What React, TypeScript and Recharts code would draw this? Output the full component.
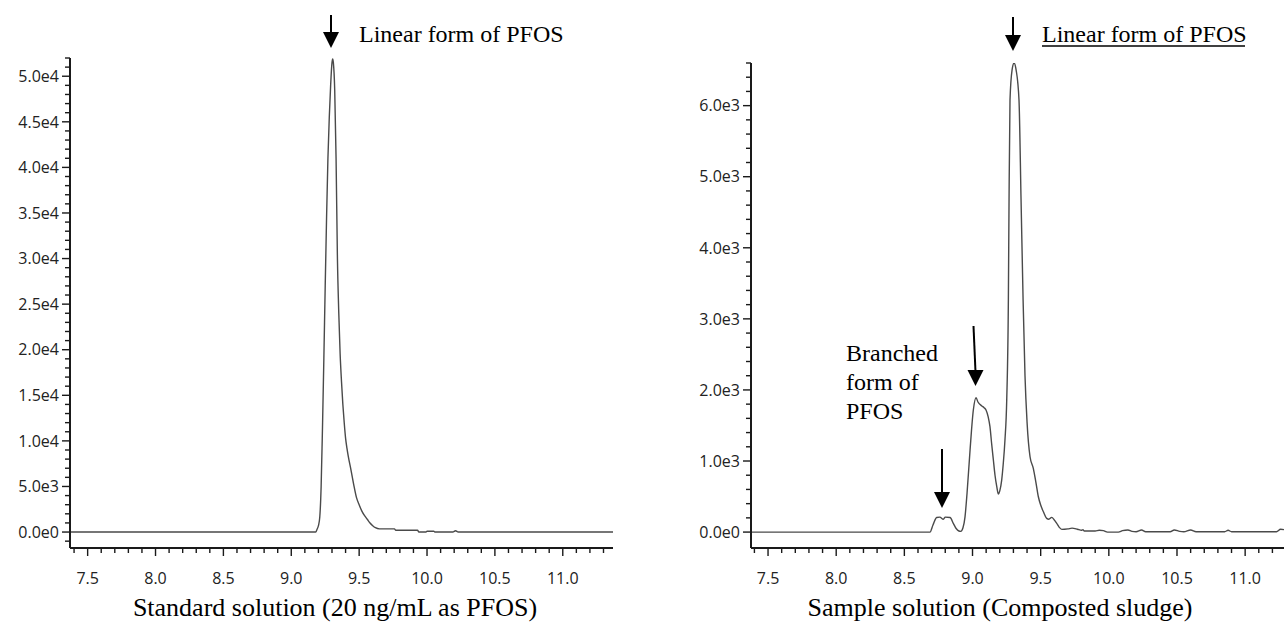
import React from 'react';
import { LineChart, Line, XAxis, YAxis } from 'recharts';

// ---------- data ----------
const stdTime = [7.37, 9.18, 9.19, 9.2, 9.21, 9.22, 9.23, 9.24, 9.25, 9.26, 9.27, 9.28, 9.29, 9.3, 9.305, 9.31, 9.32, 9.33, 9.34, 9.35, 9.36, 9.37, 9.38, 9.39, 9.4, 9.41, 9.42, 9.44, 9.46, 9.48, 9.5, 9.52, 9.54, 9.56, 9.58, 9.6, 9.62, 9.65, 9.76, 9.77, 9.93, 9.94, 9.99, 10.0, 10.05, 10.06, 10.19, 10.21, 10.23, 11.37];
const stdSignal = [0, 0, 300, 700, 1650, 5000, 11500, 19000, 27000, 34500, 41000, 45500, 49000, 51500, 51900, 51500, 48500, 41000, 30000, 24000, 19500, 16500, 14000, 12000, 10300, 9200, 8300, 6800, 5200, 3800, 3000, 2300, 1800, 1400, 1000, 700, 480, 350, 350, 200, 200, 0, 0, 80, 80, 0, 0, 150, 0, 0];

const smpTime = [7.375, 8.688, 8.71, 8.737, 8.76, 8.786, 8.8, 8.835, 8.86, 8.88, 8.9, 8.914, 8.93, 8.945, 8.96, 8.982, 9.006, 9.026, 9.04, 9.068, 9.085, 9.099, 9.115, 9.128, 9.14, 9.153, 9.165, 9.178, 9.19, 9.2, 9.214, 9.225, 9.238, 9.251, 9.263, 9.268, 9.275, 9.29, 9.305, 9.32, 9.341, 9.356, 9.371, 9.385, 9.4, 9.422, 9.446, 9.465, 9.483, 9.5, 9.52, 9.544, 9.56, 9.581, 9.6, 9.618, 9.635, 9.655, 9.7, 9.73, 9.77, 9.8, 9.81, 9.82, 9.9, 9.93, 9.96, 9.99, 10.07, 10.1, 10.14, 10.17, 10.2, 10.24, 10.27, 10.45, 10.48, 10.52, 10.55, 10.6, 10.64, 10.85, 10.875, 10.9, 11.23, 11.26, 11.285];
const smpSignal = [0, 0, 100, 205, 210, 180, 210, 205, 120, 50, 15, 10, 60, 215, 550, 1155, 1718, 1890, 1830, 1775, 1750, 1718, 1620, 1483, 1250, 1014, 800, 638, 535, 580, 732, 950, 1296, 1859, 3268, 4680, 6080, 6500, 6600, 6500, 6080, 4680, 3270, 2200, 1550, 1060, 897, 700, 497, 380, 286, 193, 180, 207, 170, 122, 70, 38, 45, 55, 40, 25, 35, 15, 15, 25, 20, 0, 0, 20, 30, 10, 5, 30, 5, 5, 30, 10, 5, 30, 5, 5, 25, 5, 5, 40, 35];

const xMajorValues = [7.5, 8.0, 8.5, 9.0, 9.5, 10.0, 10.5, 11.0];
const xTickLabels = ['7.5', '8.0', '8.5', '9.0', '9.5', '10.0', '10.5', '11.0'];

const leftYMajor = [0, 5000, 10000, 15000, 20000, 25000, 30000, 35000, 40000, 45000, 50000];
const leftYLabels = ['0.0e0', '5.0e3', '1.0e4', '1.5e4', '2.0e4', '2.5e4', '3.0e4', '3.5e4', '4.0e4', '4.5e4', '5.0e4'];

const rightYMajor = [0, 1000, 2000, 3000, 4000, 5000, 6000];
const rightYLabels = ['0.0e0', '1.0e3', '2.0e3', '3.0e3', '4.0e3', '5.0e3', '6.0e3'];

const captionLeft = 'Standard solution (20 ng/mL as PFOS)';
const captionRight = 'Sample solution (Composted sludge)';
const linearLabel = 'Linear form of PFOS';
const branchedLines = ['Branched', 'form of', 'PFOS'];

// ---------- helpers ----------
const stdData = stdTime.map((t, i) => ({ t, v: stdSignal[i] }));
const smpData = smpTime.map((t, i) => ({ t, v: smpSignal[i] }));

const range = (from: number, to: number, step: number, div: number) => {
  const out: number[] = [];
  for (let k = from; k <= to; k += step) out.push(k / div);
  return out;
};
const leftXTicks = range(74, 113, 1, 10);
const rightXTicks = range(74, 112, 1, 10);
const leftYTicks = range(-1000, 52000, 1000, 1);
const rightYTicks = range(0, 6600, 200, 1);

const TICK_FONT = '"Open Sans", "Noto Sans", sans-serif';
const SERIF = '"Liberation Serif", "Times New Roman", serif';
const AXIS_COLOR = '#1a1a1a';
const LINE_COLOR = '#4a4a4a';

const makeXTick = () => (props: any) => {
  const { x, y, payload } = props;
  const v = payload.value;
  const idx = xMajorValues.findIndex((m) => Math.abs(m - v) < 1e-6);
  const major = idx >= 0;
  return (
    <g>
      <line x1={x} x2={x} y1={y} y2={y + (major ? 8 : 5)} stroke={AXIS_COLOR} strokeWidth={1.4} />
      {major && (
        <text x={x} y={y + 36} textAnchor="middle" fontFamily={TICK_FONT} fontSize={16} fill="#222">
          {xTickLabels[idx]}
        </text>
      )}
    </g>
  );
};

const makeYTick = (majors: number[], labels: string[]) => (props: any) => {
  const { x, y, payload } = props;
  const v = payload.value;
  const idx = majors.findIndex((m) => Math.abs(m - v) < 1e-6);
  const major = idx >= 0;
  return (
    <g>
      <line x1={x} x2={x - (major ? 8 : 5)} y1={y} y2={y} stroke={AXIS_COLOR} strokeWidth={1.4} />
      {major && (
        <text x={x - 11} y={y} dy="0.36em" textAnchor="end" fontFamily={TICK_FONT} fontSize={16} fill="#222">
          {labels[idx]}
        </text>
      )}
    </g>
  );
};

const Arrow = ({ x1, y1, x2, y2, hw, hl }: { x1: number; y1: number; x2: number; y2: number; hw: number; hl: number }) => (
  <g>
    <line x1={x1} y1={y1} x2={x2} y2={y2 - hl + 2} stroke="#000" strokeWidth={2} />
    <polygon points={`${x2 - hw},${y2 - hl} ${x2 + hw},${y2 - hl} ${x2},${y2}`} fill="#000" />
  </g>
);

export default function App() {
  return (
    <div style={{ position: 'absolute', left: 0, top: 0, width: 1284, height: 642, background: '#fff', overflow: 'hidden' }}>
      <div style={{ position: 'absolute', left: 0, top: 0 }}>
        <LineChart width={640} height={600} data={stdData} margin={{ top: 58, right: 27, bottom: 0, left: 0 }}>
          <XAxis
            dataKey="t"
            type="number"
            domain={[7.37, 11.37]}
            allowDataOverflow
            ticks={leftXTicks}
            interval={0}
            tickSize={0}
            tickMargin={0}
            tickLine={false}
            height={52}
            axisLine={{ stroke: AXIS_COLOR, strokeWidth: 2 }}
            tick={makeXTick()}
          />
          <YAxis
            type="number"
            domain={[-1750, 52000]}
            allowDataOverflow
            ticks={leftYTicks}
            interval={0}
            tickSize={0}
            tickMargin={0}
            tickLine={false}
            width={70}
            axisLine={{ stroke: AXIS_COLOR, strokeWidth: 2 }}
            tick={makeYTick(leftYMajor, leftYLabels)}
          />
          <Line type="monotone" dataKey="v" stroke={LINE_COLOR} strokeWidth={1.4} dot={false} isAnimationActive={false} />
        </LineChart>
      </div>
      <div style={{ position: 'absolute', left: 660, top: 0 }}>
        <LineChart width={624} height={600} data={smpData} margin={{ top: 63, right: 0, bottom: 0, left: 0 }}>
          <XAxis
            dataKey="t"
            type="number"
            domain={[7.375, 11.285]}
            allowDataOverflow
            ticks={rightXTicks}
            interval={0}
            tickSize={0}
            tickMargin={0}
            tickLine={false}
            height={52}
            axisLine={{ stroke: AXIS_COLOR, strokeWidth: 2 }}
            tick={makeXTick()}
          />
          <YAxis
            type="number"
            domain={[-224, 6600]}
            allowDataOverflow
            ticks={rightYTicks}
            interval={0}
            tickSize={0}
            tickMargin={0}
            tickLine={false}
            width={91}
            axisLine={{ stroke: AXIS_COLOR, strokeWidth: 2 }}
            tick={makeYTick(rightYMajor, rightYLabels)}
          />
          <Line type="monotone" dataKey="v" stroke={LINE_COLOR} strokeWidth={1.4} dot={false} isAnimationActive={false} />
        </LineChart>
      </div>
      <svg width={1284} height={642} style={{ position: 'absolute', left: 0, top: 0, pointerEvents: 'none' }}>
        {/* left annotation */}
        <Arrow x1={331} y1={15} x2={331} y2={48} hw={8} hl={16} />
        <text x={359} y={42} fontFamily={SERIF} fontSize={24} fill="#000">{linearLabel}</text>
        {/* right annotations */}
        <Arrow x1={1013} y1={17} x2={1013} y2={51} hw={8} hl={16} />
        <text x={1042} y={42} fontFamily={SERIF} fontSize={24} fill="#000">{linearLabel}</text>
        <line x1={1042} x2={1245} y1={46} y2={46} stroke="#000" strokeWidth={1.3} />
        <Arrow x1={973.5} y1={326} x2={975.5} y2={386} hw={8} hl={16} />
        <Arrow x1={942} y1={449} x2={942} y2={508} hw={8} hl={16} />
        {branchedLines.map((s, i) => (
          <text key={s} x={846} y={361 + i * 29} fontFamily={SERIF} fontSize={24} fill="#000">{s}</text>
        ))}
        {/* captions */}
        <text x={335} y={616} textAnchor="middle" fontFamily={SERIF} fontSize={26} fill="#000">{captionLeft}</text>
        <text x={1000} y={616} textAnchor="middle" fontFamily={SERIF} fontSize={26} fill="#000">{captionRight}</text>
      </svg>
    </div>
  );
}
